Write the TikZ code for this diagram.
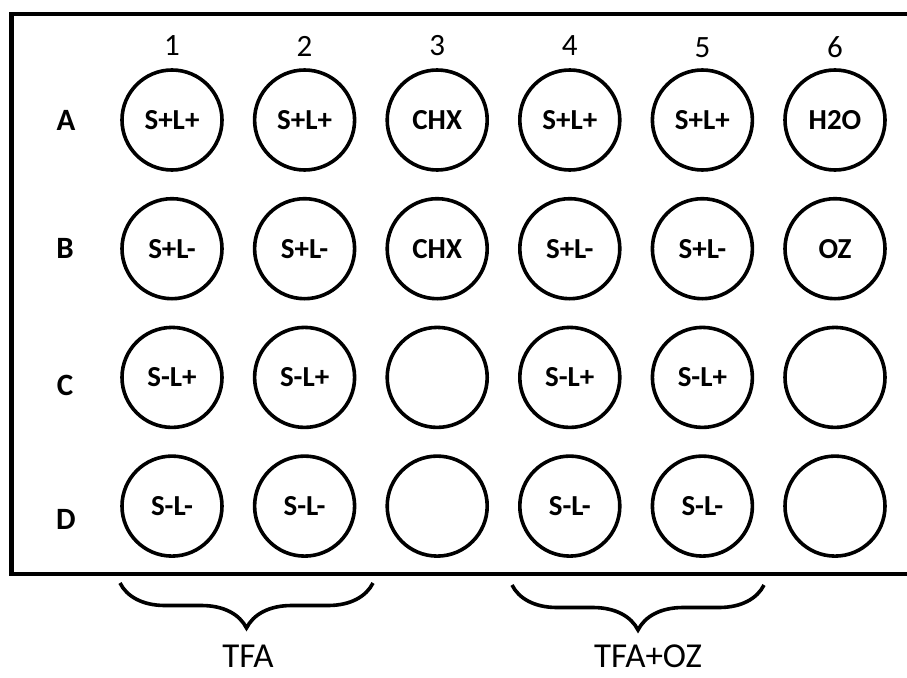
\documentclass[tikz,border=0pt]{standalone}
\usepackage{fontspec}
\setmainfont{Carlito}
\usepackage{tikz}
\usetikzlibrary{positioning,decorations.pathreplacing}

\begin{document}
\begin{tikzpicture}[
  x=1pt, y=-1pt,
  node distance=128.7pt and 132.6pt, on grid,
  well/.style={circle, draw, line width=3.6pt, minimum size=100pt, inner sep=0pt,
    font=\fontsize{29}{32}\selectfont\bfseries},
  rowlabel/.style={font=\fontsize{31}{36}\selectfont\bfseries},
  collabel/.style={font=\fontsize{31}{36}\selectfont},
  grouplabel/.style={font=\fontsize{35}{40}\selectfont, inner sep=0pt},
  grp/.style={decorate, decoration={brace, mirror, amplitude=45pt}, line width=3.6pt}
]
\useasboundingbox (0,0) rectangle (907,677);
\draw[line width=4.5pt] (907,14) -- (11.5,14) -- (11.5,574) -- (907,574);

% plate wells
\node[well] (A1) at (172,120) {S+L+};
\node[well, right=of A1] (A2) {S+L+};
\node[well, right=of A2] (A3) {CHX};
\node[well, right=of A3] (A4) {S+L+};
\node[well, right=of A4] (A5) {S+L+};
\node[well, right=of A5] (A6) {H2O};

\node[well, below=of A1] (B1) {S+L-};
\node[well, right=of B1] (B2) {S+L-};
\node[well, right=of B2] (B3) {CHX};
\node[well, right=of B3] (B4) {S+L-};
\node[well, right=of B4] (B5) {S+L-};
\node[well, right=of B5] (B6) {OZ};

\node[well, below=of B1] (C1) {S-L+};
\node[well, right=of C1] (C2) {S-L+};
\node[well, right=of C2] (C3) {};
\node[well, right=of C3] (C4) {S-L+};
\node[well, right=of C4] (C5) {S-L+};
\node[well, right=of C5] (C6) {};

\node[well, below=of C1] (D1) {S-L-};
\node[well, right=of D1] (D2) {S-L-};
\node[well, right=of D2] (D3) {};
\node[well, right=of D3] (D4) {S-L-};
\node[well, right=of D4] (D5) {S-L-};
\node[well, right=of D5] (D6) {};

% column and row labels
\node[collabel, above=74pt of A1] (col1) {1};
\node[collabel, above=74pt of A2] (col2) {2};
\node[collabel, above=74pt of A3] (col3) {3};
\node[collabel, above=74pt of A4] (col4) {4};
\node[collabel, above=72pt of A5] (col5) {5};
\node[collabel, above=73pt of A6] (col6) {6};

\node[rowlabel, left=106pt of A1] (rowA) {A};
\node[rowlabel, left=107pt of B1] (rowB) {B};
\node[rowlabel, left=107pt of C1, yshift=-8pt] (rowC) {C};
\node[rowlabel, left=106pt of D1, yshift=-13pt] (rowD) {D};

% treatment groups
\coordinate (tfaL) at (120,583);
\coordinate (tfaR) at (373,583);
\coordinate (ozL) at (512,585);
\coordinate (ozR) at (764,585);
\draw[grp] (tfaL) -- (tfaR);
\draw[grp] (ozL) -- (ozR);
\node[grouplabel] (tfa) at (248,656) {TFA};
\node[grouplabel] (tfaoz) at (648,656) {TFA+OZ};
\end{tikzpicture}
\end{document}
